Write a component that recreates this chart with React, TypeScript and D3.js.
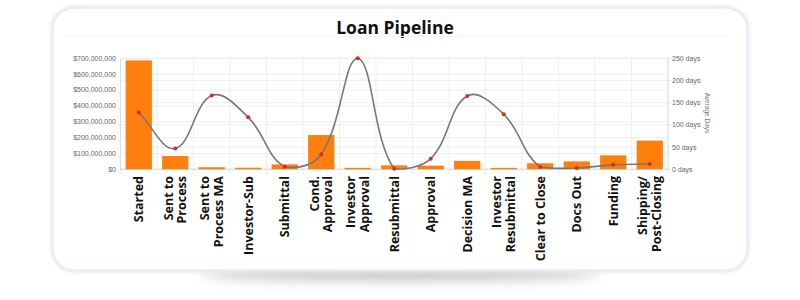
import React from 'react';
import * as d3 from 'd3';

const categories: string[][] = [
  ['Started'],
  ['Sent to', 'Process'],
  ['Sent to', 'Process MA'],
  ['Investor-Sub'],
  ['Submittal'],
  ['Cond.', 'Approval'],
  ['Investor', 'Approval'],
  ['Resubmittal'],
  ['Approval'],
  ['Decision MA'],
  ['Investor', 'Resubmittal'],
  ['Clear to Close'],
  ['Docs Out'],
  ['Funding'],
  ['Shipping/', 'Post-Closing'],
];
const loanVolume = [687e6, 84e6, 13e6, 10e6, 31e6, 216e6, 9e6, 25e6, 23e6, 53e6, 9e6, 38e6, 50e6, 88e6, 181e6];
const averageDays = [128, 47, 166, 117, 6, 34, 250, 1, 24, 165, 124, 5, 3, 10, 12];
const volumeTicks = [0, 100e6, 200e6, 300e6, 400e6, 500e6, 600e6, 700e6];
const dayTicks = [0, 50, 100, 150, 200, 250];

const W = 800;
const H = 300;
const left = 120.5;
const right = 668;
const top = 58.3;
const bottom = 169.3;

function splinePath(pts: [number, number][], t: number, minY: number, maxY: number) {
  const n = pts.length;
  const cps = pts.map((cur, i) => {
    const prev = i === 0 ? cur : pts[i - 1];
    const next = i === n - 1 ? cur : pts[i + 1];
    const d01 = Math.hypot(cur[0] - prev[0], cur[1] - prev[1]);
    const d12 = Math.hypot(next[0] - cur[0], next[1] - cur[1]);
    let s01 = d01 / (d01 + d12);
    let s12 = d12 / (d01 + d12);
    if (isNaN(s01)) s01 = 0;
    if (isNaN(s12)) s12 = 0;
    const fa = t * s01;
    const fb = t * s12;
    const clamp = (y: number) => Math.max(minY, Math.min(maxY, y));
    return {
      p: [cur[0] - fa * (next[0] - prev[0]), clamp(cur[1] - fa * (next[1] - prev[1]))],
      n: [cur[0] + fb * (next[0] - prev[0]), clamp(cur[1] + fb * (next[1] - prev[1]))],
    };
  });
  const path = d3.path();
  path.moveTo(pts[0][0], pts[0][1]);
  for (let i = 1; i < n; i++) {
    path.bezierCurveTo(cps[i - 1].n[0], cps[i - 1].n[1], cps[i].p[0], cps[i].p[1], pts[i][0], pts[i][1]);
  }
  return path.toString();
}

export default function App() {
  const x = d3.scaleBand<number>().domain(d3.range(categories.length)).range([left, right]).paddingInner(0).paddingOuter(0);
  const bw = x.bandwidth();
  const barW = bw * 0.72;
  const yL = d3.scaleLinear().domain([0, 700e6]).range([bottom, top]);
  const yR = d3.scaleLinear().domain([0, 250]).range([bottom, top]);
  const fmtMoney = (v: number) => '$' + d3.format(',')(v);

  const pts: [number, number][] = averageDays.map((d, i) => [x(i)! + bw / 2, yR(d)]);
  const linePath = splinePath(pts, 0.4, top, bottom);

  const tickFont = "'Liberation Sans', Arial, sans-serif";

  return (
    <svg width={W} height={H} style={{ position: 'absolute', left: 0, top: 0, background: '#fff' }}>
      <defs>
        <filter id="blur" x="-50%" y="-200%" width="200%" height="500%">
          <feGaussianBlur stdDeviation="6" />
        </filter>
        <filter id="cardglow" x="-10%" y="-10%" width="120%" height="120%">
          <feGaussianBlur stdDeviation="1.5" />
        </filter>
      </defs>
      {/* bottom shadow */}
      <ellipse cx={400} cy={274} rx={200} ry={7} fill="#b8b8b8" filter="url(#blur)" opacity={0.8} />
      {/* card */}
      <rect x={52.5} y={7.5} width={695} height={263} rx={22} fill="none" stroke="#e4e8f4" strokeWidth={4} filter="url(#cardglow)" />
      <rect x={53} y={8} width={694} height={262} rx={21} fill="#fff" stroke="#e8ecf6" strokeWidth={1.5} />
      {/* title */}
      <text x={395} y={34} textAnchor="middle" fontFamily="'Open Sans', sans-serif" fontWeight={700} fontSize={17.5} fill="#111">
        Loan Pipeline
      </text>
      <line x1={66} x2={728} y1={36.5} y2={36.5} stroke="#f4f4f6" strokeWidth={1} />

      {/* grid */}
      <g stroke="#ebebeb" strokeWidth={0.8}>
        {volumeTicks.map((v) => (
          <line key={'gl' + v} x1={left} x2={right} y1={yL(v)} y2={yL(v)} />
        ))}
        {dayTicks.map((v) => (
          <line key={'gr' + v} x1={left} x2={right + 4} y1={yR(v)} y2={yR(v)} />
        ))}
        {d3.range(categories.length + 1).map((i) => (
          <line key={'gv' + i} x1={left + i * bw} x2={left + i * bw} y1={top} y2={bottom + 5} />
        ))}
      </g>
      <line x1={left} x2={left} y1={top} y2={bottom} stroke="#d8d8d8" strokeWidth={0.8} />
      <line x1={right} x2={right} y1={top} y2={bottom} stroke="#d8d8d8" strokeWidth={0.8} />
      <line x1={left} x2={right} y1={bottom} y2={bottom} stroke="#d8d8d8" strokeWidth={0.8} />

      {/* left ticks */}
      {volumeTicks.map((v) => (
        <text key={'tl' + v} x={116} y={yL(v)} dy="0.35em" textAnchor="end" fontFamily={tickFont} fontSize={7} fill="#666">
          {fmtMoney(v)}
        </text>
      ))}
      {/* right ticks */}
      {dayTicks.map((v) => (
        <text key={'tr' + v} x={672} y={yR(v)} dy="0.35em" textAnchor="start" fontFamily={tickFont} fontSize={7} fill="#666">
          {`${v} days`}
        </text>
      ))}
      <text transform={`translate(707,113) rotate(90)`} textAnchor="middle" dy="0.35em" fontFamily={tickFont} fontSize={6.5} fill="#777">
        Average Days
      </text>

      {/* bars */}
      {loanVolume.map((v, i) => (
        <rect key={'b' + i} x={x(i)! + (bw - barW) / 2} y={yL(v)} width={barW} height={bottom - yL(v)} fill="#ff7f0e" />
      ))}

      {/* line */}
      <path d={linePath} fill="none" stroke="#777" strokeWidth={1.6} />
      {pts.map((p, i) => (
        <circle key={'p' + i} cx={p[0]} cy={p[1]} r={2} fill="#e0281e" />
      ))}

      {/* x labels */}
      {categories.map((lines, i) => {
        const cx = x(i)! + bw / 2;
        const lh = 13.3;
        const off = -((lines.length - 1) * lh) / 2;
        return (
          <text key={'xl' + i} transform={`translate(${cx},176) rotate(-90)`} textAnchor="end" fontFamily="'Open Sans', sans-serif" fontWeight={700} fontSize={12.5} fill="#111">
            {lines.map((ln, j) => (
              <tspan key={j} x={0} y={off + j * lh} dy="0.35em">
                {ln}
              </tspan>
            ))}
          </text>
        );
      })}
    </svg>
  );
}
